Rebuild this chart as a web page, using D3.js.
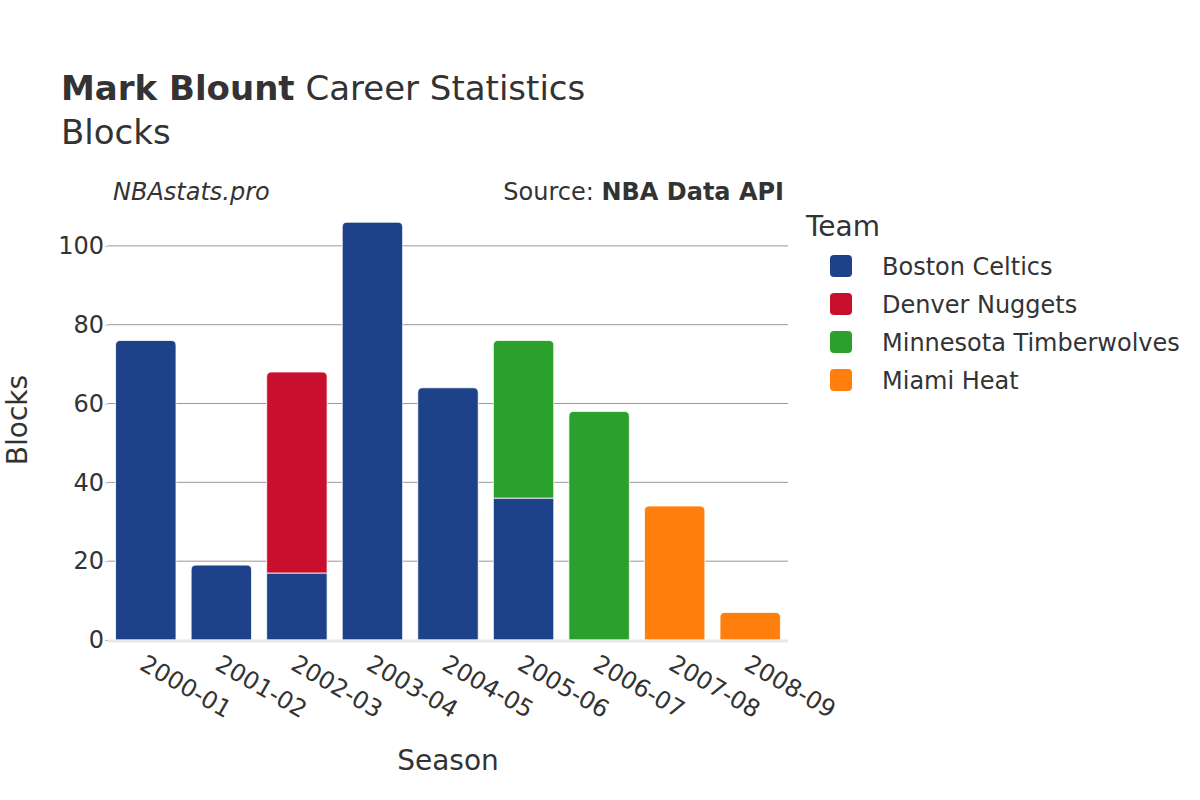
<!DOCTYPE html>
<html><head><meta charset="utf-8">
<script src="https://cdn.jsdelivr.net/npm/d3@7"></script>
<style>body{margin:0;background:#fff}svg{font-family:"DejaVu Sans",sans-serif}</style>
</head><body><svg id="c" width="1200" height="800"></svg>
<script>
const seasons = ["2000-01","2001-02","2002-03","2003-04","2004-05","2005-06","2006-07","2007-08","2008-09"];
const teams = ["Boston Celtics","Denver Nuggets","Minnesota Timberwolves","Miami Heat"];
const teamColors = ["#1d428a","#c8102e","#2ca02c","#ff7f0e"];
const bostonCeltics = [76,19,17,106,64,36,0,0,0];
const denverNuggets = [0,0,51,0,0,0,0,0,0];
const minnesotaTimberwolves = [0,0,0,0,0,40,58,0,0];
const miamiHeat = [0,0,0,0,0,0,0,34,7];
const yTicks = [0,20,40,60,80,100];

const series = [bostonCeltics, denverNuggets, minnesotaTimberwolves, miamiHeat];
const svg = d3.select("#c");
const L = 108, R = 788, T = 210, B = 640;
const x = d3.scaleBand().domain(seasons).range([L, R]).paddingInner(0.2).paddingOuter(0.1);
const y = d3.scaleLinear().domain([0, 109.1]).range([B, T]);
const txt = "#333";

// gridlines
svg.append("g").selectAll("line").data(yTicks.filter(d=>d>0)).join("line")
  .attr("x1", L).attr("x2", R).attr("y1", d=>y(d)).attr("y2", d=>y(d))
  .attr("stroke", "#999").attr("stroke-width", 1);

// y axis labels
const yAxis = d3.axisLeft(y).tickValues(yTicks).tickSize(3).tickPadding(1);
const ga = svg.append("g").attr("transform", `translate(${L},0)`).call(yAxis);
ga.select(".domain").remove();
ga.selectAll(".tick line").attr("stroke", "#bbb");
ga.selectAll("text").attr("fill", txt).attr("font-size", 24).attr("font-family", "DejaVu Sans");

// stacked bars
const rows = seasons.map((s,i)=>{ const o={season:s}; teams.forEach((t,j)=>o[t]=series[j][i]); return o; });
const stacked = d3.stack().keys(teams)(rows);
const topKey = {};
seasons.forEach((s,i)=>{ let k=-1; teams.forEach((t,j)=>{ if(series[j][i]>0) k=j; }); topKey[s]=k; });
const r = 5;
function barPath(x0, w, y0, y1, round){
  if(!round) return `M${x0},${y0}V${y1}H${x0+w}V${y0}Z`;
  const rr = Math.min(r, (y0-y1));
  return `M${x0},${y0}V${y1+rr}Q${x0},${y1} ${x0+rr},${y1}H${x0+w-rr}Q${x0+w},${y1} ${x0+w},${y1+rr}V${y0}Z`;
}
stacked.forEach((layer, j)=>{
  svg.append("g").selectAll("path").data(layer.filter(d=>d[1]-d[0]>0)).join("path")
    .attr("d", d=>barPath(x(d.data.season), x.bandwidth(), y(d[0]), y(d[1]), topKey[d.data.season]===j))
    .attr("fill", teamColors[j]).attr("stroke", "#fff").attr("stroke-width", 0.8);
});

// zero line
svg.append("line").attr("x1", L).attr("x2", R).attr("y1", y(0)+1).attr("y2", y(0)+1)
  .attr("stroke", "#e8e8e8").attr("stroke-width", 3);

// x labels
const xAxis = d3.axisBottom(x).tickSize(0);
const gx = svg.append("g").attr("transform", `translate(0,${B})`).call(xAxis);
gx.select(".domain").remove();
gx.selectAll("text").attr("fill", txt).attr("font-size", 24).attr("font-family", "DejaVu Sans")
  .attr("text-anchor", "start").attr("dy", 0)
  .attr("transform", function(){ return "translate(-6,26) rotate(30)"; });

// titles
const title = svg.append("text").attr("x", 61).attr("y", 100).attr("fill", txt).attr("font-size", 34);
title.append("tspan").attr("font-weight", "bold").text("Mark Blount");
title.append("tspan").text(" Career Statistics");
svg.append("text").attr("x", 61).attr("y", 144).attr("fill", txt).attr("font-size", 34).text("Blocks");
svg.append("text").attr("x", 113).attr("y", 200).attr("fill", txt).attr("font-size", 24).attr("font-style", "italic").text("NBAstats.pro");
const src = svg.append("text").attr("x", 784).attr("y", 200).attr("fill", txt).attr("font-size", 24).attr("text-anchor", "end");
src.append("tspan").text("Source: ");
src.append("tspan").attr("font-weight", "bold").text("NBA Data API");

svg.append("text").attr("x", 448).attr("y", 770).attr("fill", txt).attr("font-size", 28).attr("text-anchor", "middle").text("Season");
svg.append("text").attr("transform", "translate(27,420) rotate(-90)").attr("fill", txt).attr("font-size", 28).attr("text-anchor", "middle").text("Blocks");

// legend
svg.append("text").attr("x", 806).attr("y", 236).attr("fill", txt).attr("font-size", 28).text("Team");
const lg = svg.append("g").selectAll("g").data(teams).join("g").attr("transform", (d,i)=>`translate(830,${266+i*38})`);
lg.append("rect").attr("x", 0).attr("y", -11).attr("width", 22).attr("height", 22).attr("rx", 4).attr("fill", (d,i)=>teamColors[i]);
lg.append("text").attr("x", 52).attr("y", 9).attr("fill", txt).attr("font-size", 24).text(d=>d);
</script></body></html>
